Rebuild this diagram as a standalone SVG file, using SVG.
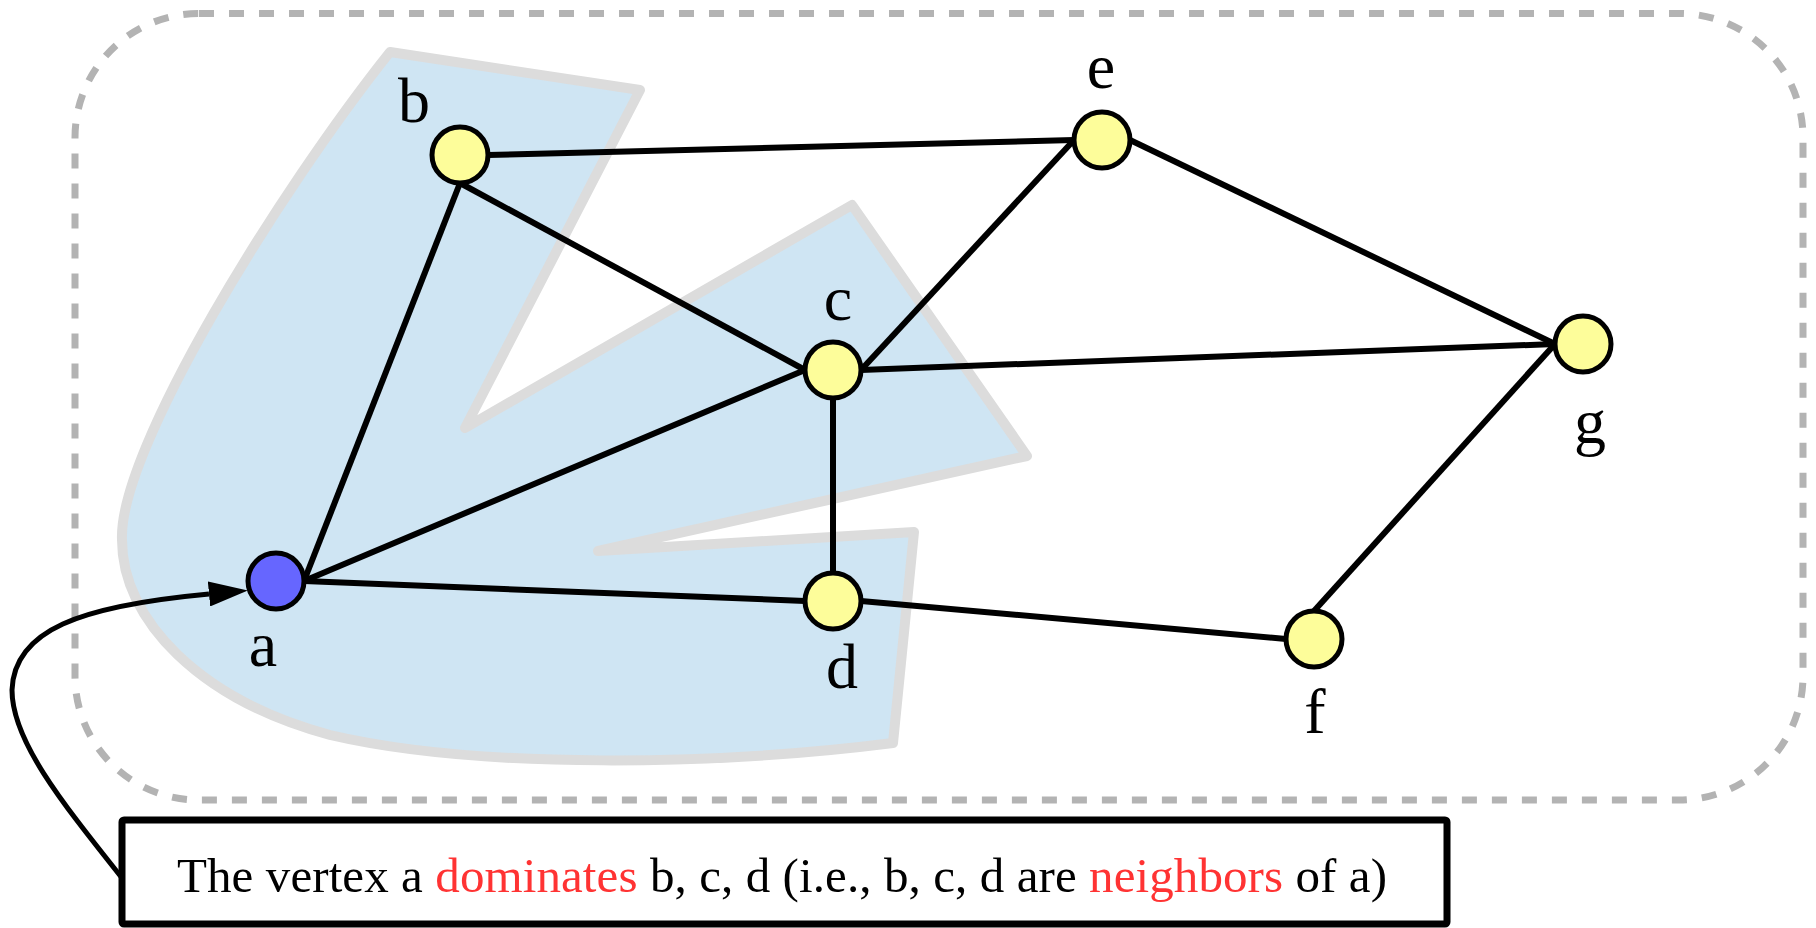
<svg xmlns="http://www.w3.org/2000/svg" width="1816" height="928" viewBox="0 0 1816 928">
  <style>
    .frame { fill: none; stroke: #b3b3b3; stroke-width: 7; stroke-dasharray: 15 15; }
    .region { fill: #cfe5f3; stroke: #dcdcdc; stroke-width: 10; stroke-linejoin: round; }
    .edge { stroke: #000; stroke-width: 6; fill: none; stroke-linecap: butt; }
    .node { stroke: #000; stroke-width: 5; }
    .yellow { fill: #fdfd9a; }
    .blue { fill: #6666ff; }
    .lbl { font-family: "Liberation Serif", "DejaVu Serif", serif; font-size: 64px; fill: #000; text-anchor: middle; }
    .note { font-family: "Liberation Serif", "DejaVu Serif", serif; font-size: 49px; fill: #000; }
    .red { fill: #ff3333; }
    .pointer { fill: none; stroke: #000; stroke-width: 5; }
    .box { fill: #fff; stroke: #000; stroke-width: 7; }
  </style>
  <defs>
    <marker id="arr" markerUnits="userSpaceOnUse" markerWidth="39" markerHeight="25" refX="0" refY="12.5" orient="auto" viewBox="0 0 39 25">
      <path d="M0,0 L39,12.5 L0,25 Z" fill="#000"/>
    </marker>
  </defs>

  <rect class="frame" x="75" y="13.5" width="1728" height="786.5" rx="124" ry="124"/>

  <path class="region" d="M390,52 L640,90 L465,428 L852,205 L1027,456 L598,551 L914,532 L893,743 C720,765 480,770 330,735 C200,700 122,620 122,540 C118,450 280,190 390,52 Z"/>

  <g id="connectors">
    <line class="edge" x1="304" y1="581" x2="460" y2="183"/>
    <line class="edge" x1="304" y1="581" x2="805" y2="370"/>
    <line class="edge" x1="304" y1="581" x2="805" y2="601"/>
    <line class="edge" x1="460" y1="183" x2="805" y2="370"/>
    <line class="edge" x1="488" y1="155" x2="1074" y2="140"/>
    <line class="edge" x1="861" y1="370" x2="1074" y2="140"/>
    <line class="edge" x1="861" y1="370" x2="1555" y2="344"/>
    <line class="edge" x1="833" y1="398" x2="833" y2="573"/>
    <line class="edge" x1="861" y1="601" x2="1286" y2="639"/>
    <line class="edge" x1="1130" y1="140" x2="1555" y2="344"/>
    <line class="edge" x1="1314" y1="611" x2="1555" y2="344"/>
  </g>

  <g id="node-a"><circle class="node blue" cx="276" cy="581" r="28"/><text class="lbl" x="263" y="666">a</text></g>
  <g id="node-b"><circle class="node yellow" cx="460" cy="155" r="28"/><text class="lbl" x="414" y="122">b</text></g>
  <g id="node-c"><circle class="node yellow" cx="833" cy="370" r="28"/><text class="lbl" x="838" y="320">c</text></g>
  <g id="node-d"><circle class="node yellow" cx="833" cy="601" r="28"/><text class="lbl" x="842" y="688">d</text></g>
  <g id="node-e"><circle class="node yellow" cx="1102" cy="140" r="28"/><text class="lbl" x="1101" y="88">e</text></g>
  <g id="node-f"><circle class="node yellow" cx="1314" cy="639" r="28"/><text class="lbl" x="1315" y="733">f</text></g>
  <g id="node-g"><circle class="node yellow" cx="1583" cy="344" r="28"/><text class="lbl" x="1590" y="443">g</text></g>

  <g id="pointer">
    <path class="pointer" d="M122,878 C60,800 12,740 12,690 C14,630 80,606 209,594" marker-end="url(#arr)"/>
  </g>

  <g id="note">
    <rect class="box" x="122" y="820" width="1325" height="104" rx="2"/>
    <text class="note" x="177" y="892" textLength="1210" lengthAdjust="spacing">The vertex a <tspan class="red">dominates</tspan> b, c, d (i.e., b, c, d are <tspan class="red">neighbors</tspan> of a)</text>
  </g>
</svg>
